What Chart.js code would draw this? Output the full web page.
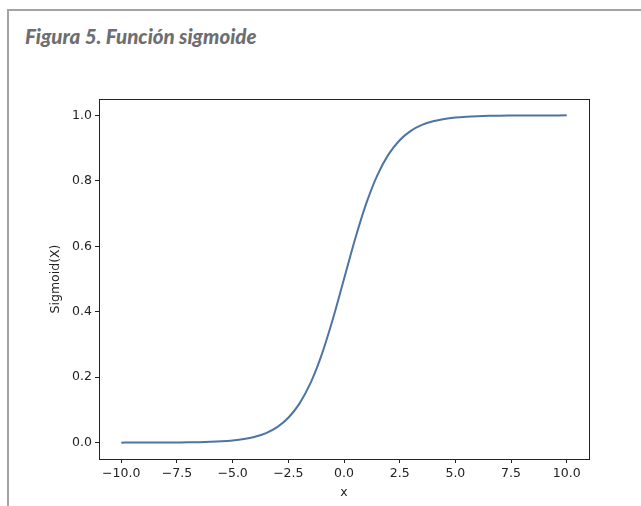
<!DOCTYPE html>
<html>
<head>
<meta charset="utf-8">
<script src="https://cdn.jsdelivr.net/npm/chart.js@4/dist/chart.umd.min.js"></script>
<style>
  html, body { margin: 0; padding: 0; background: #fff; }
  #wrap { position: relative; width: 641px; height: 506px; overflow: hidden; }
  #frame {
    position: absolute; left: 7px; top: 9px; right: -10px; bottom: -10px;
    border-top: 2px solid #a3a3a3; border-left: 2px solid #a3a3a3;
  }
  #title {
    position: absolute; left: 25px; top: 24px;
    font: italic 900 20.5px Lato, "Open Sans", sans-serif; color: #6d6e71;
  }
  canvas { position: absolute; left: 0; top: 0; }
</style>
</head>
<body>
<div id="wrap">
  <div id="frame"></div>
  <div id="title">Figura 5. Función sigmoide</div>
  <canvas id="chart" width="641" height="506"></canvas>
</div>
<script>
// values
const xValues = [-10, -9.5, -9, -8.5, -8, -7.5, -7, -6.5, -6, -5.5, -5, -4.5, -4, -3.5, -3, -2.5, -2, -1.5, -1, -0.5,
  0, 0.5, 1, 1.5, 2, 2.5, 3, 3.5, 4, 4.5, 5, 5.5, 6, 6.5, 7, 7.5, 8, 8.5, 9, 9.5, 10];
const sigmoidValues = [0.0000, 0.0001, 0.0001, 0.0002, 0.0003, 0.0006, 0.0009, 0.0015, 0.0025, 0.0041, 0.0067, 0.0110, 0.0180, 0.0293, 0.0474, 0.0759, 0.1192, 0.1824, 0.2689, 0.3775,
  0.5000, 0.6225, 0.7311, 0.8176, 0.8808, 0.9241, 0.9526, 0.9707, 0.9820, 0.9890, 0.9933, 0.9959, 0.9975, 0.9985, 0.9991, 0.9994, 0.9997, 0.9998, 0.9999, 0.9999, 1.0000];
const xTicks = [-10, -7.5, -5, -2.5, 0, 2.5, 5, 7.5, 10];
const yTicks = [0, 0.2, 0.4, 0.6, 0.8, 1.0];

const points = xValues.map((x, i) => ({ x: x, y: sigmoidValues[i] }));

// black box around the plot area, like matplotlib
const frameBox = {
  id: 'frameBox',
  afterDraw(chart) {
    const { ctx, chartArea: a } = chart;
    ctx.save();
    ctx.strokeStyle = '#222';
    ctx.lineWidth = 1;
    ctx.strokeRect(a.left + 0.5, a.top + 0.5, a.right - a.left, a.bottom - a.top);
    ctx.restore();
  }
};

const tickFont = { family: 'DejaVu Sans', size: 12.5 };
const fmt = v => (v < 0 ? '\u2212' : '') + Math.abs(v).toFixed(1);

new Chart(document.getElementById('chart'), {
  type: 'line',
  data: {
    datasets: [{
      data: points,
      borderColor: '#4e74a3',
      borderWidth: 2,
      pointRadius: 0,
      cubicInterpolationMode: 'monotone',
      fill: false
    }]
  },
  options: {
    responsive: false,
    animation: false,
    layout: { padding: { left: 44, top: 99, right: 52, bottom: 0 } },
    plugins: { legend: { display: false }, tooltip: { enabled: false } },
    scales: {
      x: {
        type: 'linear',
        min: -11, max: 11,
        afterBuildTicks: s => { s.ticks = xTicks.map(v => ({ value: v })); },
        afterFit: s => { s.height = 47; },
        grid: { drawOnChartArea: false, tickLength: 4, color: '#222' },
        border: { display: false },
        ticks: { font: tickFont, color: '#222', padding: 3, maxRotation: 0, callback: v => fmt(v) },
        title: { display: true, text: 'x', font: tickFont, color: '#222', padding: { top: 0, bottom: 6 } }
      },
      y: {
        min: -0.05, max: 1.05,
        afterBuildTicks: s => { s.ticks = yTicks.map(v => ({ value: v })); },
        afterFit: s => { s.width = 55; },
        grid: { drawOnChartArea: false, tickLength: 4, color: '#222' },
        border: { display: false },
        ticks: { font: tickFont, color: '#222', padding: 3, callback: v => fmt(v) },
        title: { display: true, text: 'Sigmoid(X)', font: tickFont, color: '#222', padding: { top: 4, bottom: 0 } }
      }
    }
  },
  plugins: [frameBox]
});
</script>
</body>
</html>
